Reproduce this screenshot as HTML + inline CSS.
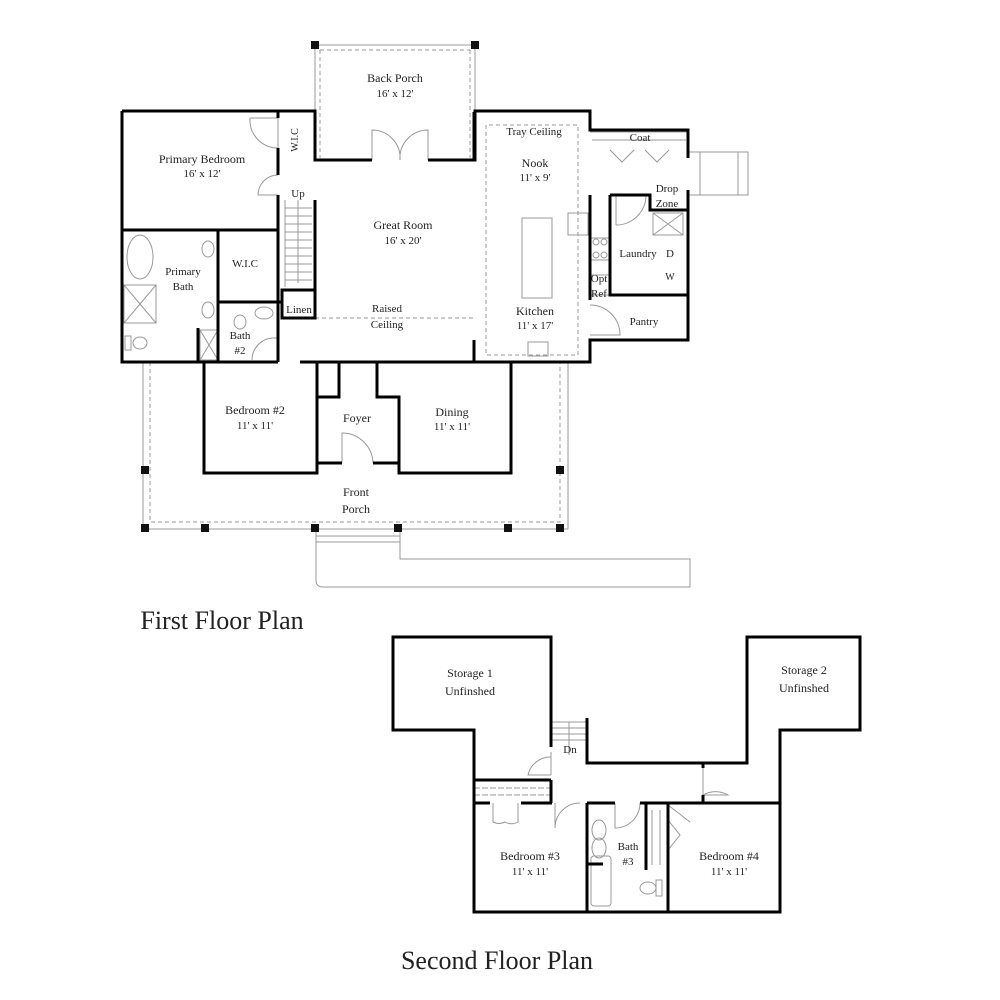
<!DOCTYPE html>
<html><head><meta charset="utf-8"><style>
html,body{margin:0;padding:0;background:#fff}
svg{display:block}
text{font-family:"Liberation Serif",serif;fill:#222;text-anchor:middle}
</style></head><body>
<svg width="1000" height="1000" viewBox="0 0 1000 1000" xmlns="http://www.w3.org/2000/svg">
<g fill="none" stroke="#999" stroke-width="1">
<line x1="315" y1="45" x2="475" y2="45"/>
<line x1="315" y1="45" x2="315" y2="111"/><line x1="475" y1="45" x2="475" y2="111"/>
<path d="M320 50 V158 M470 50 V158 M320 50 H470" stroke-dasharray="4 3"/>
<path d="M143 362 V529 H568 V362"/>
<path d="M150 362 V522 H560 V362" stroke-dasharray="4 3"/>
<path d="M316 529 V580 Q316 587 323 587 H690 V559 H400 V529"/>
<line x1="316" y1="536" x2="400" y2="536"/><line x1="316" y1="542" x2="400" y2="542"/>
<path d="M315 318 H474 M486 125 V355 H578 V125 H486" stroke-dasharray="4 3"/>
<path d="M688 152 H748 V195 H688 M700 152 V195 M738 152 V195"/>
<rect x="522" y="218" width="30" height="80"/>
<path d="M285 200 V287 M285 208 H312 M285 216 H312 M285 224 H312 M285 232 H312 M285 240 H312 M285 248 H312 M285 256 H312 M285 264 H312 M285 272 H312 M285 280 H312 M298 200 V283"/>
<ellipse cx="140" cy="257" rx="13" ry="22"/>
<rect x="124" y="285" width="32" height="38"/><path d="M124 285 L156 323 M156 285 L124 323"/>
<rect x="200" y="330" width="18" height="30"/><path d="M200 330 L218 360 M218 330 L200 360"/>
<ellipse cx="208" cy="249" rx="6" ry="8"/><ellipse cx="208" cy="310" rx="6" ry="8"/>
<ellipse cx="140" cy="343" rx="7" ry="6"/><rect x="125" y="336" width="6" height="14"/>
<ellipse cx="240" cy="322" rx="6" ry="7"/><ellipse cx="264" cy="313" rx="9" ry="6"/>
<rect x="568" y="213" width="20" height="22"/>
<rect x="653" y="213" width="30" height="22"/><path d="M653 213 L683 235 M683 213 L653 235"/>
<rect x="528" y="342" width="20" height="14"/>
<circle cx="596" cy="242" r="3"/><circle cx="604" cy="242" r="3"/><circle cx="596" cy="255" r="3"/><circle cx="604" cy="255" r="3"/>
<rect x="590" y="238" width="20" height="22"/>
<path d="M590 275 H610 M590 295 H610 M590 132 H688 M592 140 H686"/>
<path d="M372 160 V130 A28 28 0 0 1 400 160 M428 160 V130 A28 28 0 0 0 400 160"/>
<path d="M278 175 A20 20 0 0 0 258 195 H278"/>
<path d="M250 118 H278 V148 A28 28 0 0 1 250 118"/>
<path d="M616 195 V225 A30 30 0 0 0 646 195"/>
<path d="M590 305 A30 30 0 0 1 620 335 H590"/>
<path d="M342 463 V433 A31 31 0 0 1 373 463"/>
<path d="M252 360 A22 22 0 0 1 272 338 H278"/>
<path d="M610 150 L622 162 L634 150 M645 150 L657 162 L669 150"/>
<!-- second floor details -->
<path d="M552 722 H587 M552 728 H587 M552 734 H587 M552 740 H587 M569 722 V755"/>
<path d="M551 752 V775 M551 757 A23 23 0 0 0 528 775 H551"/>
<path d="M703 768 V795 A25 25 0 0 1 728 795 H703"/>
<path d="M474 788 H551 M474 795 H551" stroke-dasharray="6 2"/>
<path d="M493 803 V822 A13 13 0 0 0 505 822 A13 13 0 0 0 518 822 V803"/>
<path d="M555 803 V828 A25 25 0 0 1 580 803"/>
<path d="M615 803 V828 A25 25 0 0 0 640 803"/>
<ellipse cx="599" cy="830" rx="7" ry="10"/><ellipse cx="599" cy="848" rx="7" ry="10"/>
<rect x="591" y="856" width="20" height="50" rx="3"/>
<ellipse cx="648" cy="888" rx="8" ry="6"/><rect x="656" y="880" width="6" height="16"/>
<path d="M652 810 V865 M660 810 V865"/>
<path d="M668 820 L680 835 L668 850 M668 805 L690 822"/>
</g>
<g fill="#111">
<rect x="311" y="41" width="8" height="8"/><rect x="471" y="41" width="8" height="8"/>
<rect x="141" y="466" width="8" height="8"/><rect x="556" y="466" width="8" height="8"/>
<rect x="141" y="524" width="8" height="8"/><rect x="201" y="524" width="8" height="8"/>
<rect x="311" y="524" width="8" height="8"/><rect x="394" y="524" width="8" height="8"/>
<rect x="504" y="524" width="8" height="8"/><rect x="556" y="524" width="8" height="8"/>
</g>
<g fill="none" stroke="#000" stroke-width="3">
<path d="M122 111 H315 V160 H372 M428 160 H475 V111 H590 V130 H688 V158 M688 190 V340 H590 V362 H474 V340"/>
<path d="M122 111 V362 H278 M300 362 H474"/>
<path d="M474 112 V160"/>
<path d="M122 230 H278 M278 111 V118 M278 148 V175 M278 195 V362"/>
<path d="M315 200 V318 H282 V290 H315"/>
<path d="M218 230 V362 M218 302 H282 V318 M198 328 V362"/>
<path d="M590 112 V130 M610 195 V295 H688 M610 195 H650 V210 H688 M590 195 V300"/>
<path d="M204 362 V473 H317 V362 M317 397 H339 V362 M377 362 V397 H399 V473 H511 V362"/>
<path d="M317 463 H342 M373 463 H399"/>
<!-- second floor -->
<path d="M551 747 V637 H393 V730 H474 V912 H587 V803"/>
<path d="M551 780 V803 M474 780 H551"/>
<path d="M587 718 V763 H747 V637 H860 V730 H780 V912 H668 V803 H780"/>
<path d="M474 803 H490 M521 803 H552 M587 912 H668 M587 803 H615 M640 803 H668 M646 803 V870 M587 864 H603"/>
<path d="M703 763 V768 M703 795 V803 H700"/>
</g>
<g font-size="12">
<text x="395" y="82">Back Porch</text><text x="395" y="97" font-size="11">16' x 12'</text>
<text x="202" y="163">Primary Bedroom</text><text x="202" y="177" font-size="11">16' x 12'</text>
<text x="403" y="229">Great Room</text><text x="403" y="244" font-size="11">16' x 20'</text>
<text x="534" y="135" font-size="11">Tray Ceiling</text>
<text x="535" y="167">Nook</text><text x="535" y="181" font-size="11">11' x 9'</text>
<text x="535" y="315">Kitchen</text><text x="535" y="329" font-size="11">11' x 17'</text>
<text x="640" y="141" font-size="11">Coat</text>
<text x="667" y="192" font-size="11">Drop</text><text x="667" y="207" font-size="11">Zone</text>
<text x="638" y="257" font-size="11">Laundry</text><text x="670" y="257" font-size="11">D</text><text x="670" y="280" font-size="10">W</text>
<text x="599" y="282" font-size="11">Opt</text><text x="599" y="297" font-size="11">Ref</text>
<text x="644" y="325" font-size="11">Pantry</text>
<text x="298" y="197" font-size="11">Up</text>
<text x="299" y="313" font-size="11">Linen</text>
<text x="387" y="312" font-size="11">Raised</text><text x="387" y="328" font-size="11">Ceiling</text>
<text x="183" y="275" font-size="11">Primary</text><text x="183" y="290" font-size="11">Bath</text>
<text x="245" y="267" font-size="11">W.I.C</text>
<text x="298" y="140" font-size="10" transform="rotate(-90 298 140)">W.I.C</text>
<text x="240" y="339" font-size="11">Bath</text><text x="240" y="354" font-size="11">#2</text>
<text x="255" y="414">Bedroom #2</text><text x="255" y="429" font-size="11">11' x 11'</text>
<text x="357" y="422">Foyer</text>
<text x="452" y="416">Dining</text><text x="452" y="430" font-size="11">11' x 11'</text>
<text x="356" y="496">Front</text><text x="356" y="513">Porch</text>
<text x="470" y="677">Storage 1</text><text x="470" y="695">Unfinshed</text>
<text x="804" y="674">Storage 2</text><text x="804" y="692">Unfinshed</text>
<text x="570" y="753" font-size="11">Dn</text>
<text x="530" y="860">Bedroom #3</text><text x="530" y="875" font-size="11">11' x 11'</text>
<text x="628" y="850" font-size="11">Bath</text><text x="628" y="865" font-size="11">#3</text>
<text x="729" y="860">Bedroom #4</text><text x="729" y="875" font-size="11">11' x 11'</text>
</g>
<text x="222" y="629" font-size="26">First Floor Plan</text>
<text x="497" y="969" font-size="26">Second Floor Plan</text>
</svg>
</body></html>
